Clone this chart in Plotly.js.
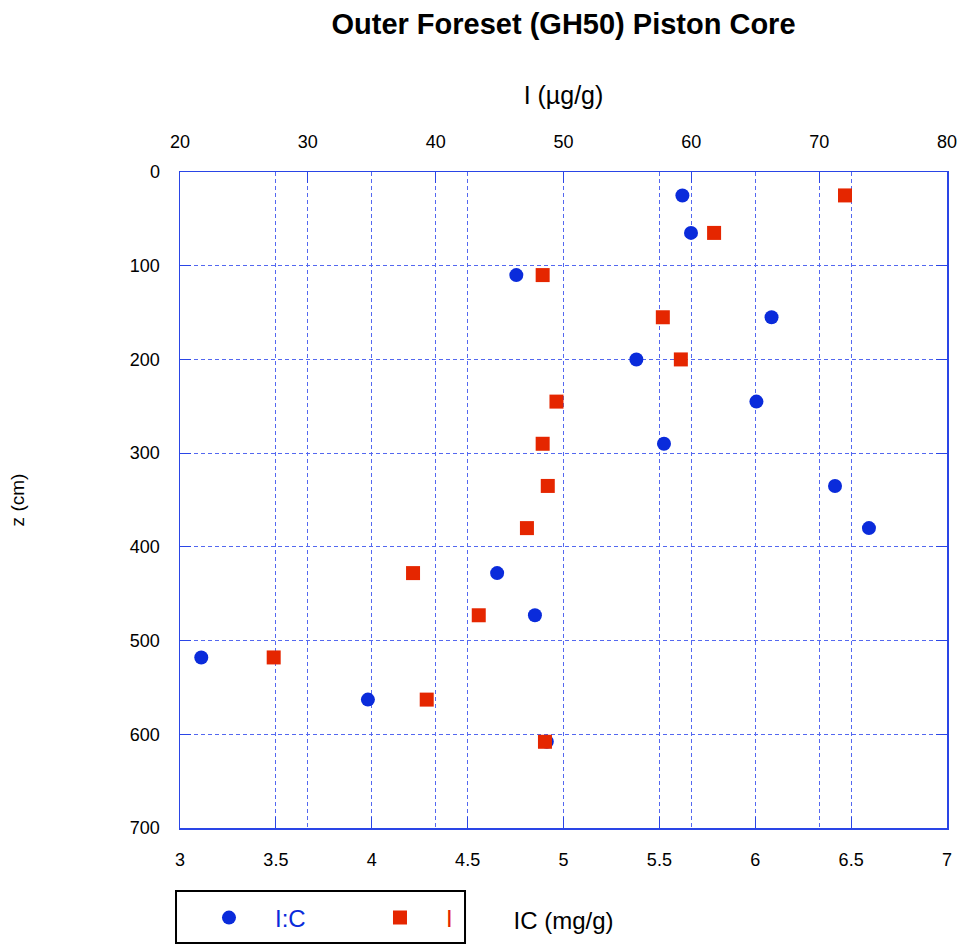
<!DOCTYPE html>
<html>
<head>
<meta charset="utf-8">
<script src="https://cdn.plot.ly/plotly-3.0.1.min.js"></script>
<style>html,body{margin:0;padding:0;background:#fff;}#chart{width:963px;height:944px;}</style>
</head>
<body>
<div id="chart"></div>
<script>
// Depths (cm)
const depth = [25, 65, 110, 155, 200, 245, 290, 335, 380, 428, 473, 518, 563, 608];
// I:C values (plotted on bottom axis)
const icRatio = [5.62, 5.665, 4.754, 6.085, 5.38, 6.006, 5.524, 6.416, 6.593, 4.654, 4.851, 3.111, 3.98, 4.913];
// I (µg/g) values (plotted on top axis)
const iodine = [72.02, 61.78, 48.37, 57.77, 59.18, 49.45, 48.37, 48.77, 47.14, 38.23, 43.37, 27.33, 39.3, 48.55];
// Tick labels
const bottomTicks = [3, 3.5, 4, 4.5, 5, 5.5, 6, 6.5, 7];
const topTicks = [20, 30, 40, 50, 60, 70, 80];
const depthTicks = [0, 100, 200, 300, 400, 500, 600, 700];

const blue = '#0a2bdb';
const red = '#e52600';
const gridC = '#5468f0';
const axisC = '#2a45e6';
const FONT = 'Liberation Sans, Arial, sans-serif';

const traces = [
  {
    type: 'scatter', mode: 'markers', name: '<span style="color:' + blue + '">I:C</span>',
    x: icRatio, y: depth, xaxis: 'x', yaxis: 'y',
    marker: {symbol: 'circle', size: 14, color: blue}
  },
  {
    type: 'scatter', mode: 'markers', name: '<span style="color:' + red + '">I</span>',
    x: iodine, y: depth, xaxis: 'x2', yaxis: 'y',
    marker: {symbol: 'square', size: 14, color: red}
  }
];

const gridCommon = {
  showgrid: true, gridcolor: gridC, griddash: '4px,3px', gridwidth: 1,
  showline: true, linecolor: axisC, linewidth: 1.5,
  ticks: 'inside', ticklen: 11, tickcolor: axisC, tickwidth: 1,
  zeroline: false, automargin: false,
  tickfont: {size: 18, family: FONT, color: '#000'},
  ticklabelstandoff: 15
};

const layout = {
  width: 963, height: 944,
  margin: {l: 180, r: 16, t: 172, b: 116, autoexpand: false},
  paper_bgcolor: '#fff', plot_bgcolor: '#fff',
  font: {family: FONT, size: 18, color: '#000'},
  title: {
    text: '<b>Outer Foreset (GH50) Piston Core</b>',
    font: {family: FONT, size: 29, color: '#000'},
    xref: 'paper', x: 0.5, xanchor: 'center',
    yref: 'container', y: 1 - 24 / 944, yanchor: 'middle'
  },
  xaxis: Object.assign({}, gridCommon, {
    range: [3, 7], tickvals: bottomTicks, ticktext: bottomTicks.map(String),
    title: {text: 'IC (mg/g)', font: {size: 24, family: FONT}, standoff: 43}
  }),
  xaxis2: Object.assign({}, gridCommon, {
    overlaying: 'x', side: 'top', anchor: 'y',
    range: [20, 80], tickvals: topTicks, ticktext: topTicks.map(String),
    title: {text: 'I (µg/g)', font: {size: 25, family: FONT}, standoff: 20}
  }),
  yaxis: Object.assign({}, gridCommon, {
    range: [700, 0], tickvals: depthTicks, ticktext: depthTicks.map(String),
    mirror: 'ticks',
    title: {text: 'z (cm)', font: {size: 19, family: FONT}, standoff: 100}
  }),
  showlegend: true,
  legend: {
    orientation: 'h', xref: 'paper', yref: 'paper',
    x: 0.0039, xanchor: 'left', y: -0.1372, yanchor: 'middle',
    font: {size: 24, family: FONT},
    bgcolor: 'rgba(0,0,0,0)', borderwidth: 0,
    entrywidth: 74, entrywidthmode: 'pixels', itemwidth: 82
  },
  shapes: [{
    type: 'rect', xref: 'paper', yref: 'paper',
    x0: -0.0052, x1: 0.3716, y0: -0.1753, y1: -0.0960,
    line: {color: '#000', width: 2}, fillcolor: 'rgba(0,0,0,0)'
  }]
};

Plotly.newPlot('chart', traces, layout, {displayModeBar: false, staticPlot: true});
</script>
</body>
</html>
